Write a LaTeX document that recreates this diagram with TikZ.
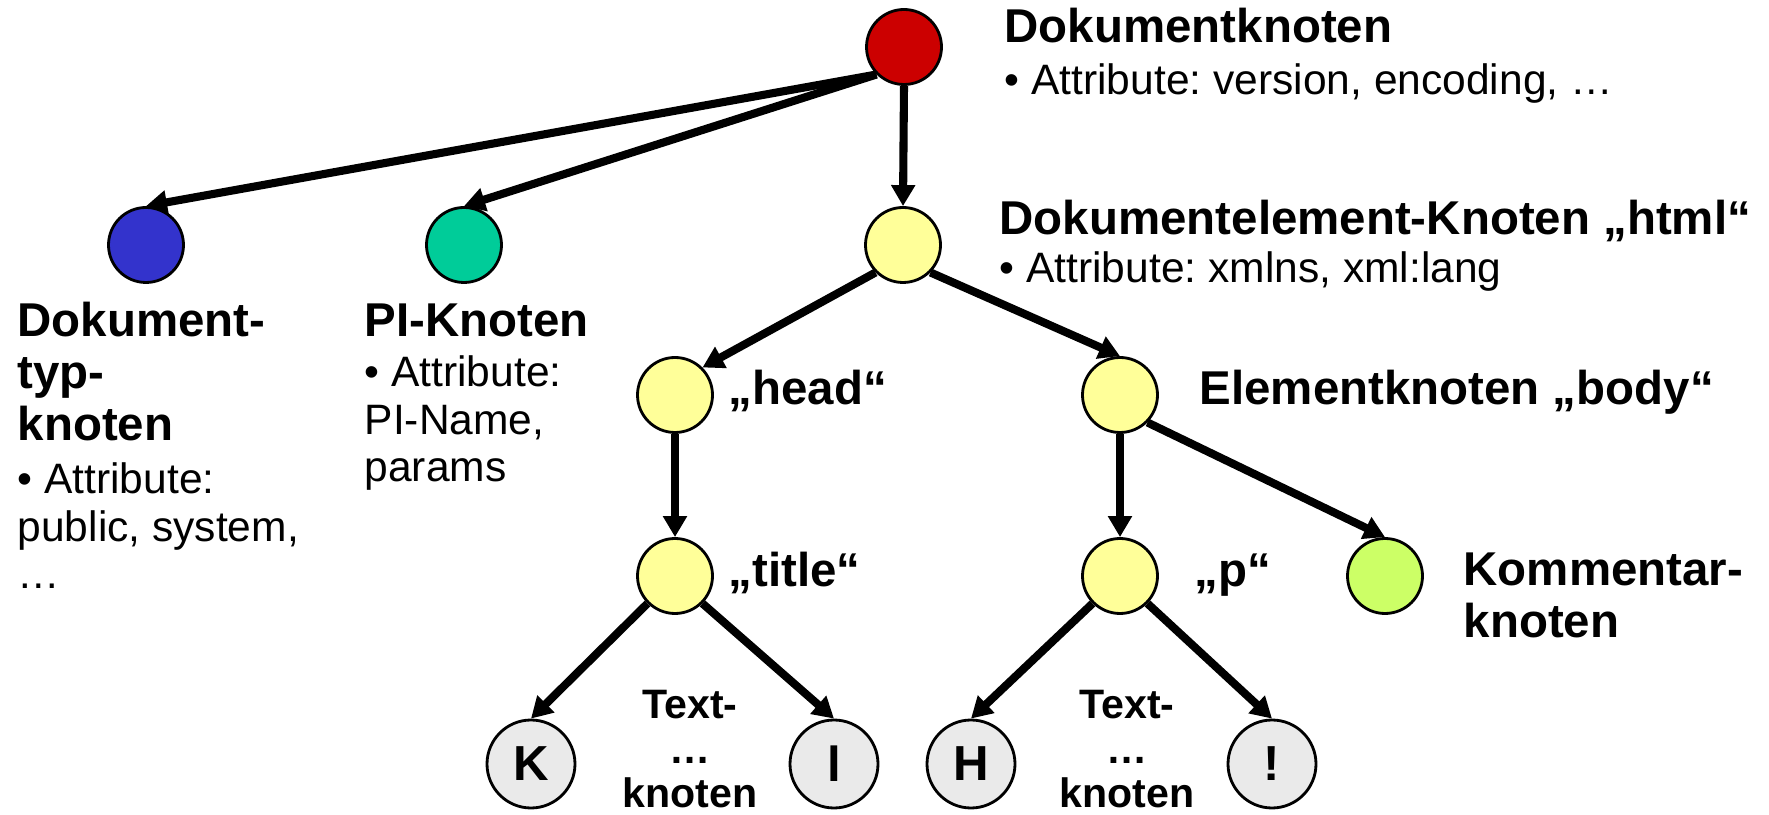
\documentclass[tikz,border=0pt]{standalone}
\usepackage{fontspec}
\setmainfont{Liberation Sans}
\usetikzlibrary{arrows.meta}
\frenchspacing

\definecolor{docred}{HTML}{CC0000}
\definecolor{dtdblue}{HTML}{3333CC}
\definecolor{piteal}{HTML}{00CC99}
\definecolor{elemyellow}{HTML}{FFFF99}
\definecolor{commgreen}{HTML}{CCFF66}
\definecolor{textgrey}{HTML}{EAEAEA}

\begin{document}
\begin{tikzpicture}[
  knot/.style={circle, draw, line width=0.8pt, minimum size=0.75cm, inner sep=0pt},
  textknot/.style={circle, draw, line width=0.8pt, minimum size=0.88cm, inner sep=0pt,
    fill=textgrey, font=\fontsize{14}{16}\selectfont\bfseries},
  edge/.style={line width=2.3pt, -{Triangle[length=0.21cm,width=0.23cm]}},
  title/.style={anchor=base west, inner sep=0pt, align=left,
    font=\fontsize{13.5}{14.8}\selectfont\bfseries},
  info/.style={anchor=base west, inner sep=0pt, align=left,
    font=\fontsize{12.1}{13.6}\selectfont},
  textlabel/.style={anchor=base, inner sep=0pt, align=center,
    font=\fontsize{11.7}{12.7}\selectfont\bfseries}
]
\useasboundingbox (0,0) rectangle (17.69,-8.15);

\node [knot, fill=docred] (0) at (9.04, -0.47) {};
\node [knot, fill=dtdblue] (1) at (1.46, -2.45) {};
\node [knot, fill=piteal] (2) at (4.64, -2.45) {};
\node [knot, fill=elemyellow] (3) at (9.03, -2.45) {};
\node [knot, fill=elemyellow] (4) at (6.75, -3.95) {};
\node [knot, fill=elemyellow] (5) at (11.20, -3.95) {};
\node [knot, fill=elemyellow] (6) at (6.75, -5.76) {};
\node [knot, fill=elemyellow] (7) at (11.20, -5.76) {};
\node [knot, fill=commgreen] (8) at (13.85, -5.76) {};
\node [textknot] (9) at (5.31, -7.64) {K};
\node [textknot] (10) at (8.34, -7.64) {l};
\node [textknot] (11) at (9.71, -7.64) {H};
\node [textknot] (12) at (12.72, -7.64) {!};

\draw [edge] (0.south west) to (1.north);
\draw [edge] (0.south west) to (2.north);
\draw [edge] (0.south) to (3.north);
\draw [edge] (3.south west) to (4.north east);
\draw [edge] (3.south east) to (5.north);
\draw [edge] (4.south) to (6.north);
\draw [edge] (5.south) to (7.north);
\draw [edge] (5.south east) to (8.north);
\draw [edge] (6.south west) to (9.north);
\draw [edge] (6.south east) to (10.north);
\draw [edge] (7.south west) to (11.north);
\draw [edge] (7.south east) to (12.north);

% multi-line texts sit on the baseline of their last line
\node [title] (13) at (10.04, -0.43) {Dokumentknoten};
\node [info] (14) at (10.04, -0.95) {• Attribute: version, encoding, …};
\node [title] (15) at (9.99, -2.35) {Dokumentelement-Knoten „html“};
\node [info] (16) at (9.99, -2.83) {• Attribute: xmlns, xml:lang};
\node [title] (17) at (0.17, -4.41) {Dokument-\\typ-\\knoten};
\node [info] (18) at (0.17, -5.89) {• Attribute:\\public, system,\\…};
\node [title] (19) at (3.64, -3.37) {PI-Knoten};
\node [info] (20) at (3.64, -4.82) {• Attribute:\\PI-Name,\\params};
\node [title] (21) at (7.28, -4.05) {„head“};
\node [title] (22) at (11.99, -4.05) {Elementknoten „body“};
\node [title] (23) at (7.28, -5.87) {„title“};
\node [title] (24) at (11.94, -5.87) {„p“};
\node [title] (25) at (14.63, -6.38) {Kommentar-\\knoten};
\node [textlabel] (26) at (6.90, -8.08) {Text-\\…\\knoten};
\node [textlabel] (27) at (11.27, -8.08) {Text-\\…\\knoten};
\end{tikzpicture}
\end{document}
